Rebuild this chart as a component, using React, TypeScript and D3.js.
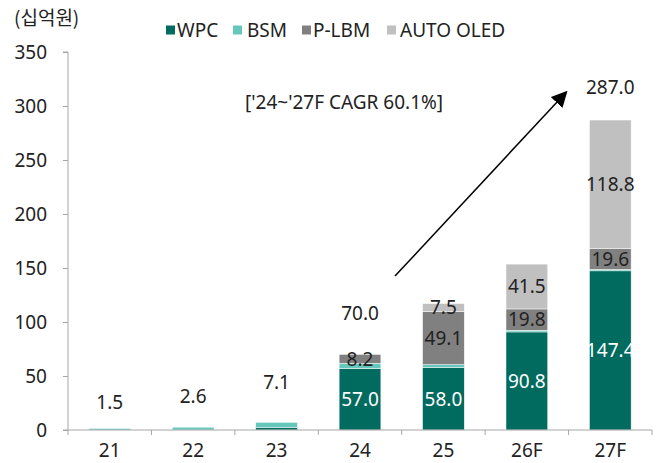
import React, { useEffect, useRef } from "react";
import * as d3 from "d3";

const categories = ["21", "22", "23", "24", "25", "26F", "27F"];
const seriesNames = ["WPC", "BSM", "P-LBM", "AUTO OLED"];
const wpc = [0, 0, 2.5, 57.0, 58.0, 90.8, 147.4];
const bsm = [1.5, 2.6, 4.6, 4.8, 2.5, 1.5, 1.2];
const plbm = [0, 0, 0, 8.2, 49.1, 19.8, 19.6];
const autoOled = [0, 0, 0, 0, 7.5, 41.5, 118.8];
const totals = [1.5, 2.6, 7.1, 70.0, null, null, 287.0];
const yTicks = [0, 50, 100, 150, 200, 250, 300, 350];

const colors = ["#006b5e", "#66c8bc", "#808080", "#c0c0c0"];
const labelColors = ["#ffffff", "#000000", "#222222", "#222222"];
const FONT = "'Noto Sans', sans-serif";
const FS = 19;

const W = 661;
const H = 463;

const App: React.FC = () => {
  const ref = useRef<SVGSVGElement | null>(null);

  useEffect(() => {
    if (!ref.current) return;
    const svg = d3.select(ref.current);
    svg.selectAll("*").remove();

    const x = d3.scaleBand<string>().domain(categories).range([68, 652]).paddingInner(0.5).paddingOuter(0.25);
    const y = d3.scaleLinear().domain([0, 350]).range([430, 52]);

    const rows = categories.map((c, i) => ({
      cat: c,
      WPC: wpc[i],
      BSM: bsm[i],
      "P-LBM": plbm[i],
      "AUTO OLED": autoOled[i],
    }));
    const stack = d3.stack<any>().keys(seriesNames)(rows);

    // axes
    const axisColor = "#a6a6a6";
    const yAxis = svg.append("g").attr("transform", "translate(68,0)")
      .call(d3.axisLeft(y).tickValues(yTicks).tickSize(5).tickFormat(d3.format("d")));
    yAxis.select(".domain").attr("stroke", axisColor).attr("d", `M-5,${y(350)}H0V${y(0)}`);
    yAxis.selectAll(".tick line").attr("stroke", axisColor);
    yAxis.selectAll(".tick text").attr("x", -21).attr("font-family", FONT).attr("font-size", FS).attr("fill", "#222");

    // bars
    stack.forEach((s, si) => {
      svg.append("g").selectAll("rect").data(s).join("rect")
        .attr("x", (d: any) => x(d.data.cat)!)
        .attr("width", x.bandwidth())
        .attr("y", (d) => y(d[1]))
        .attr("height", (d) => Math.max(0, y(d[0]) - y(d[1])))
        .attr("fill", colors[si])
        .attr("stroke", "#ffffff")
        .attr("stroke-width", (d) => (d[1] - d[0] > 0 ? 0.6 : 0))
        .attr("stroke-opacity", 0.8);
    });

    // x axis
    const step = x.step();
    const left = 68;
    const xAxis = svg.append("g");
    xAxis.append("line").attr("x1", 63).attr("x2", left + step * 7).attr("y1", y(0)).attr("y2", y(0))
      .attr("stroke", axisColor);
    d3.range(8).forEach((k) => {
      xAxis.append("line").attr("x1", left + step * k).attr("x2", left + step * k)
        .attr("y1", y(0)).attr("y2", y(0) + 5).attr("stroke", axisColor);
    });
    xAxis.selectAll("text").data(categories).join("text")
      .attr("x", (d) => x(d)! + x.bandwidth() / 2)
      .attr("y", y(0) + 20)
      .attr("dy", "0.35em")
      .attr("text-anchor", "middle")
      .attr("font-family", FONT).attr("font-size", FS).attr("fill", "#222")
      .text((d) => d);

    // segment labels
    stack.forEach((s, si) => {
      if (si === 1) return;
      svg.append("g").selectAll("text").data(s.filter((d) => d[1] - d[0] >= 5)).join("text")
        .attr("x", (d: any) => x(d.data.cat)! + x.bandwidth() / 2)
        .attr("y", (d) => (y(d[0]) + y(d[1])) / 2)
        .attr("dy", "0.36em")
        .attr("text-anchor", "middle")
        .attr("font-family", FONT).attr("font-size", FS)
        .attr("fill", labelColors[si])
        .text((d) => d3.format(".1f")(d[1] - d[0]));
    });

    // total labels (lifted above the bars)
    const lift = [26, 31, 40, 41, 0, 0, 33];
    svg.append("g").selectAll("text").data(categories.map((c, i) => ({ c, t: totals[i], i })).filter((d) => d.t !== null))
      .join("text")
      .attr("x", (d) => x(d.c)! + x.bandwidth() / 2)
      .attr("y", (d) => y(d.t as number) - lift[d.i])
      .attr("dy", "0.36em")
      .attr("text-anchor", "middle")
      .attr("font-family", FONT).attr("font-size", FS).attr("fill", "#222")
      .text((d) => d3.format(".1f")(d.t as number));

    // CAGR arrow
    const defs = svg.append("defs");
    defs.append("marker").attr("id", "arrowHead").attr("viewBox", "0 0 10 10")
      .attr("refX", 9).attr("refY", 5).attr("markerWidth", 16).attr("markerHeight", 16)
      .attr("markerUnits", "userSpaceOnUse").attr("orient", "auto")
      .append("path").attr("d", "M0,0L10,5L0,10Z").attr("fill", "#000");
    svg.append("line")
      .attr("x1", x("24")! + x.bandwidth() / 2 + 35).attr("y1", y(142.5))
      .attr("x2", x("27F")! - 23).attr("y2", y(313))
      .attr("stroke", "#000").attr("stroke-width", 1.5)
      .attr("marker-end", "url(#arrowHead)");

    svg.append("text").attr("x", 245).attr("y", 102).attr("dy", "0.35em")
      .attr("font-family", FONT).attr("font-size", FS).attr("fill", "#222")
      .text("['24~'27F CAGR 60.1%]");

    // unit
    svg.append("text").attr("x", 14).attr("y", 18).attr("dy", "0.35em")
      .attr("font-family", "'Noto Sans CJK KR', sans-serif").attr("font-size", FS).attr("fill", "#222")
      .text("(십억원)");

    // legend
    const legendX = [166, 233, 302, 387];
    const legendTextX = [177, 247, 313, 400];
    const lg = svg.append("g").selectAll("g").data(seriesNames).join("g")
      .attr("transform", (d, i) => `translate(${legendX[i]},30)`);
    lg.append("rect").attr("x", 0).attr("y", -4.5).attr("width", 9).attr("height", 9)
      .attr("fill", (d, i) => colors[i]);
    lg.append("text").attr("x", (d, i) => legendTextX[i] - legendX[i]).attr("y", 0).attr("dy", "0.35em")
      .attr("font-family", FONT).attr("font-size", FS).attr("fill", "#222")
      .text((d) => d);
  }, []);

  return (
    <svg ref={ref} width={W} height={H} style={{ position: "absolute", left: 0, top: 0, background: "#fff" }} />
  );
};

export default App;
